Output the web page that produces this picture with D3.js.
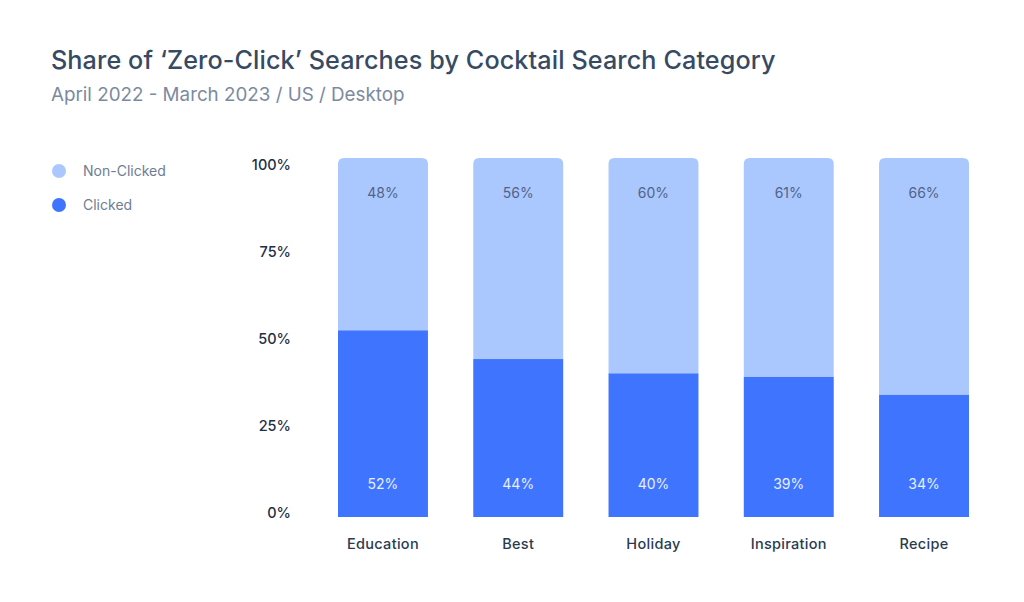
<!DOCTYPE html>
<meta charset="utf-8">
<script src="https://d3js.org/d3.v7.min.js"></script>
<style>
  body { margin: 0; background: #fff; }
  text { font-family: Inter, "Noto Sans", sans-serif; }
</style>
<body>
<svg id="chart" width="1024" height="602"></svg>
<script>
    // data
    const categories = ["Education", "Best", "Holiday", "Inspiration", "Recipe"];
    const clicked = [52, 44, 40, 39, 34];
    const nonClicked = [48, 56, 60, 61, 66];
    const tickValues = [0, 25, 50, 75, 100];
    const seriesNames = ["Non-Clicked", "Clicked"];

    const lightBlue = "#abc8fe";
    const darkBlue = "#3f75fe";

    const svg = d3.select("#chart");

    // title
    svg.append("text")
        .attr("x", 51).attr("y", 69)
        .attr("font-size", 25.2).attr("font-weight", 500)
        .attr("letter-spacing", 0.1)
        .attr("fill", "#364b63")
        .text("Share of \u2018Zero-Click\u2019 Searches by Cocktail Search Category");
    svg.append("text")
        .attr("x", 51).attr("y", 101)
        .attr("font-size", 18.8).attr("fill", "#7b8aa0")
        .text("April 2022 - March 2023 / US / Desktop");

    // legend
    const legend = svg.append("g").selectAll("g")
        .data(seriesNames)
        .join("g")
            .attr("transform", (d, i) => `translate(59,${171 + i * 34})`);
    legend.append("circle").attr("r", 7)
        .attr("fill", (d, i) => i == 0 ? lightBlue : darkBlue);
    legend.append("text").attr("x", 24).attr("dy", "0.35em")
        .attr("font-size", 14).attr("fill", "#6e7d93")
        .text(d => d);

    // scales
    const x = d3.scaleBand().domain(categories).range([338, 969]).paddingInner(0.335);
    const y = d3.scaleLinear().domain([0, 100]).range([517, 158]);
    const yLabel = d3.scaleLinear().domain([0, 100]).range([513, 165]);

    // y labels
    svg.append("g").selectAll("text")
        .data(tickValues)
        .join("text")
            .attr("x", 291).attr("y", d => yLabel(d))
            .attr("dy", "0.35em").attr("text-anchor", "end")
            .attr("font-size", 14.5).attr("font-weight", 500)
            .attr("fill", "#1e2f45")
            .text(d => d + "%");

    // x labels
    svg.append("g").selectAll("text")
        .data(categories)
        .join("text")
            .attr("x", d => x(d) + x.bandwidth() / 2).attr("y", 544)
            .attr("dy", "0.35em").attr("text-anchor", "middle")
            .attr("font-size", 14.5).attr("font-weight", 500)
            .attr("letter-spacing", 0.3)
            .attr("fill", "#2a3b50")
            .text(d => d);

    const bw = x.bandwidth(), r = 6;

    // non-clicked part on top, rounded top corners
    svg.append("g").selectAll("path")
        .data(categories)
        .join("path")
            .attr("fill", lightBlue)
            .attr("d", (d, i) => {
                const x0 = x(d), yt = y(100), yb = y(clicked[i]);
                return `M${x0},${yb}V${yt + r}Q${x0},${yt} ${x0 + r},${yt}H${x0 + bw - r}Q${x0 + bw},${yt} ${x0 + bw},${yt + r}V${yb}Z`;
            });

    // clicked part at bottom
    svg.append("g").selectAll("rect")
        .data(categories)
        .join("rect")
            .attr("fill", darkBlue)
            .attr("x", d => x(d)).attr("width", bw)
            .attr("y", (d, i) => y(clicked[i]))
            .attr("height", (d, i) => y(0) - y(clicked[i]));

    // value labels
    svg.append("g").selectAll("text")
        .data(categories)
        .join("text")
            .attr("x", d => x(d) + bw / 2).attr("y", y(100) + 35)
            .attr("dy", "0.35em").attr("text-anchor", "middle")
            .attr("font-size", 14).attr("fill", "#51638a")
            .text((d, i) => nonClicked[i] + "%");
    svg.append("g").selectAll("text")
        .data(categories)
        .join("text")
            .attr("x", d => x(d) + bw / 2).attr("y", y(0) - 33)
            .attr("dy", "0.35em").attr("text-anchor", "middle")
            .attr("font-size", 14).attr("fill", "#e8efff")
            .text((d, i) => clicked[i] + "%");
</script>
</body>
